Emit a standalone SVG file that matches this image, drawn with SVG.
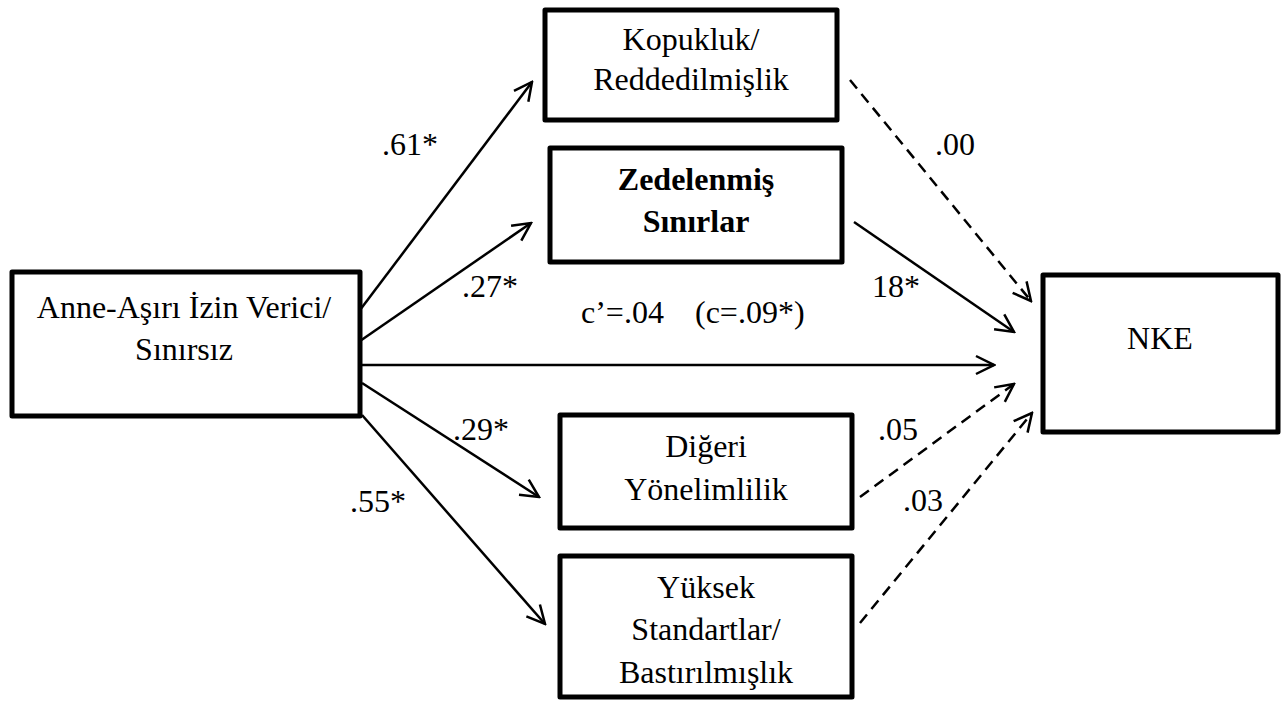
<svg xmlns="http://www.w3.org/2000/svg" width="1286" height="702" viewBox="0 0 1286 702">
<style>
.box{fill:#fff;stroke:#000;stroke-width:5;stroke-linejoin:round}
text{font-family:'Liberation Serif','Times New Roman',serif;font-size:32px;fill:#000}
.c{text-anchor:middle}
.b{font-weight:bold}
.ln{stroke:#000;stroke-width:2.5;fill:none;marker-end:url(#ah)}
.d{stroke-dasharray:11 7}
</style>
<defs>
<marker id="ah" viewBox="-22 -12 24 24" refX="0" refY="0" markerWidth="24" markerHeight="24" markerUnits="userSpaceOnUse" orient="auto">
<path d="M-18,-9 L0,0 L-18,9" fill="none" stroke="#000" stroke-width="2.5" stroke-linejoin="miter"/>
</marker>
</defs>
<rect width="1286" height="702" fill="#fff"/>
<g id="connectors">
<line class="ln" x1="360" y1="310" x2="532" y2="82"/>
<line class="ln" x1="360" y1="341" x2="531" y2="223"/>
<line class="ln" x1="362" y1="365" x2="994" y2="365"/>
<line class="ln" x1="362" y1="383" x2="539" y2="497"/>
<line class="ln" x1="362" y1="415" x2="545" y2="624"/>
<line class="ln d" x1="850" y1="80" x2="1031" y2="301"/>
<line class="ln" x1="854" y1="222" x2="1014" y2="332"/>
<line class="ln d" x1="860" y1="497" x2="1014" y2="384"/>
<line class="ln d" x1="860" y1="623" x2="1032" y2="413"/>
</g>
<g id="labels">
<text x="382" y="155">.61*</text>
<text x="462" y="297">.27*</text>
<text x="581" y="323">c’=.04</text>
<text x="695" y="323">(c=.09*)</text>
<text x="453" y="440">.29*</text>
<text x="350" y="512">.55*</text>
<text x="935" y="155">.00</text>
<text x="872" y="297">18*</text>
<text x="878" y="440">.05</text>
<text x="903" y="511">.03</text>
</g>
<g id="node-anne">
<rect class="box" x="12" y="272" width="348" height="144"/>
<text class="c" x="184" y="318">Anne-Aşırı İzin Verici/</text>
<text class="c" x="184" y="360">Sınırsız</text>
</g>
<g id="node-kopukluk">
<rect class="box" x="545" y="10" width="292" height="110"/>
<text class="c" x="691" y="50">Kopukluk/</text>
<text class="c" x="691" y="90">Reddedilmişlik</text>
</g>
<g id="node-zedelenmis">
<rect class="box" x="550" y="148" width="292" height="114"/>
<text class="c b" x="696" y="190">Zedelenmiş</text>
<text class="c b" x="696" y="232">Sınırlar</text>
</g>
<g id="node-digeri">
<rect class="box" x="560" y="415" width="292" height="113"/>
<text class="c" x="706" y="457">Diğeri</text>
<text class="c" x="706" y="500">Yönelimlilik</text>
</g>
<g id="node-yuksek">
<rect class="box" x="560" y="556" width="292" height="141"/>
<text class="c" x="706" y="598">Yüksek</text>
<text class="c" x="706" y="640">Standartlar/</text>
<text class="c" x="706" y="683">Bastırılmışlık</text>
</g>
<g id="node-nke">
<rect class="box" x="1043" y="275" width="235" height="157"/>
<text class="c" x="1160" y="349">NKE</text>
</g>
</svg>
